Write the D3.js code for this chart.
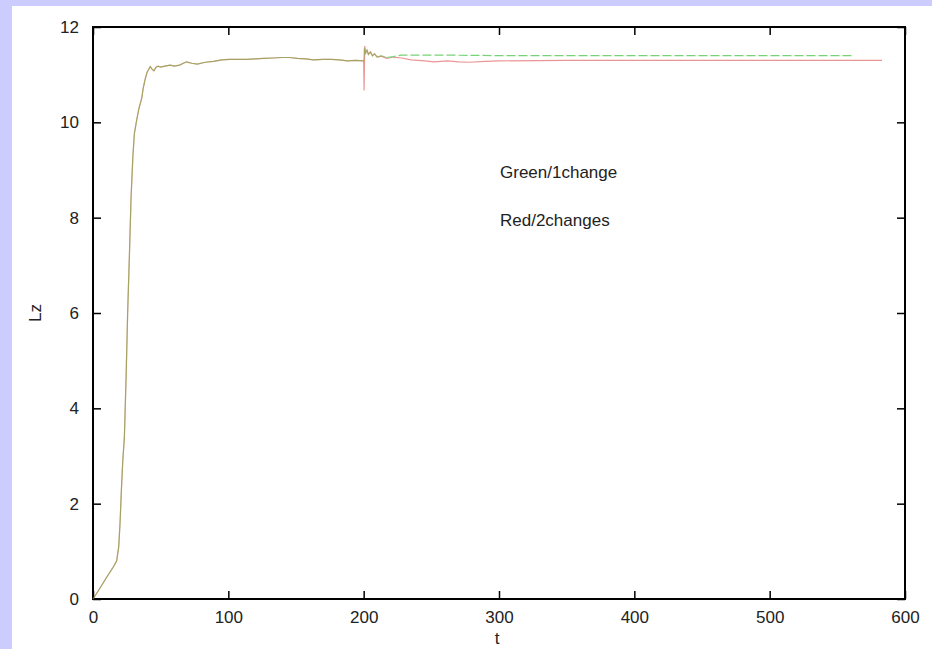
<!DOCTYPE html>
<html>
<head>
<meta charset="utf-8">
<script src="https://cdn.jsdelivr.net/npm/d3@7"></script>
<style>
  html, body { margin: 0; padding: 0; background: #ccccff; }
  svg { display: block; }
</style>
</head>
<body>
<svg id="chart" width="932" height="649"></svg>
<script>
// Shared trajectory (both runs identical up to t = 200)
const tCommon  = [0, 5, 10, 15, 17.5, 19, 20, 21, 22, 23.2, 24.5, 25.6, 27, 28.1, 29.5, 30.6, 32.3, 34, 36, 37, 38.5, 40, 42.3, 43.5, 45, 46.5, 48, 50, 53, 57, 60, 64, 69, 73, 77, 83, 89, 95, 101, 108, 114, 120, 126, 133, 140, 145, 151, 157, 163, 170, 176, 182, 188, 194, 200];
const lzCommon = [0, 0.22, 0.45, 0.67, 0.8, 1.1, 1.6, 2.3, 2.9, 3.4, 4.7, 6.0, 7.3, 8.4, 9.3, 9.77, 10.05, 10.3, 10.5, 10.7, 10.9, 11.05, 11.17, 11.12, 11.08, 11.15, 11.18, 11.16, 11.18, 11.2, 11.18, 11.2, 11.27, 11.24, 11.22, 11.26, 11.28, 11.31, 11.32, 11.32, 11.32, 11.33, 11.34, 11.35, 11.36, 11.36, 11.34, 11.33, 11.31, 11.32, 11.32, 11.31, 11.29, 11.3, 11.29];

// After the change at t = 200
const tGreen  = [200.5, 201.5, 202.5, 203.5, 205, 206.5, 208, 210, 213, 217, 222, 228, 235, 260, 300, 400, 500, 561];
const lzGreen = [11.56, 11.44, 11.5, 11.42, 11.47, 11.39, 11.43, 11.37, 11.4, 11.36, 11.38, 11.41, 11.41, 11.41, 11.4, 11.4, 11.4, 11.4];

const tRed  = [200.3, 200.8, 201.5, 202.5, 203.5, 205, 206.5, 208, 210, 213, 217, 222, 228, 235, 245, 252, 262, 270, 278, 290, 300, 350, 400, 500, 583];
const lzRed = [10.67, 11.6, 11.47, 11.52, 11.43, 11.48, 11.4, 11.44, 11.37, 11.39, 11.34, 11.37, 11.35, 11.31, 11.29, 11.27, 11.29, 11.27, 11.26, 11.28, 11.29, 11.3, 11.3, 11.3, 11.3];

const xTicks = [0, 100, 200, 300, 400, 500, 600];
const yTicks = [0, 2, 4, 6, 8, 10, 12];
const notes = ["Green/1change", "Red/2changes"];

const svg = d3.select("#chart");
const W = 932, H = 649;
const m = { left: 93, right: 905, top: 27, bottom: 599 };

// white page panel
svg.append("rect").attr("x", 12).attr("y", 6).attr("width", W - 12).attr("height", H - 6).attr("fill", "#ffffff");

const x = d3.scaleLinear().domain([0, 600]).range([m.left, m.right]);
const y = d3.scaleLinear().domain([0, 12]).range([m.bottom, m.top]);

const font = "Liberation Sans, Arial, sans-serif";
const fs = 17;
const tickLen = 8;

// axes with inward ticks on all four sides
const axisStyle = g => {
  g.select(".domain").remove();
  g.selectAll(".tick line").attr("stroke", "#000").attr("stroke-width", 1.5);
  g.selectAll(".tick text").attr("font-family", font).attr("font-size", fs).attr("fill", "#222");
};

svg.append("g").attr("transform", `translate(0,${m.bottom})`)
  .call(d3.axisBottom(x).tickValues(xTicks).tickSizeInner(-tickLen).tickSizeOuter(0).tickPadding(12).tickFormat(d3.format("d")))
  .call(axisStyle);
svg.append("g").attr("transform", `translate(0,${m.top})`)
  .call(d3.axisTop(x).tickValues(xTicks).tickSizeInner(-tickLen).tickSizeOuter(0).tickFormat(""))
  .call(axisStyle);
svg.append("g").attr("transform", `translate(${m.left},0)`)
  .call(d3.axisLeft(y).tickValues(yTicks).tickSizeInner(-tickLen).tickSizeOuter(0).tickPadding(14).tickFormat(d3.format("d")))
  .call(axisStyle);
svg.append("g").attr("transform", `translate(${m.right},0)`)
  .call(d3.axisRight(y).tickValues(yTicks).tickSizeInner(-tickLen).tickSizeOuter(0).tickFormat(""))
  .call(axisStyle);

// frame
svg.append("rect").attr("x", m.left).attr("y", m.top)
  .attr("width", m.right - m.left).attr("height", m.bottom - m.top)
  .attr("fill", "none").attr("stroke", "#000").attr("stroke-width", 2);

// axis titles
svg.append("text").attr("x", (m.left + m.right) / 2 - 2).attr("y", 644)
  .attr("text-anchor", "middle").attr("font-family", font).attr("font-size", fs).attr("fill", "#222").text("t");
svg.append("text").attr("transform", `translate(41,${(m.top + m.bottom) / 2}) rotate(-90)`)
  .attr("text-anchor", "middle").attr("font-family", font).attr("font-size", fs).attr("fill", "#222").text("Lz");

// series
const toPts = (ts, vs) => ts.map((t, i) => [t, vs[i]]);
const common = toPts(tCommon, lzCommon);
const redPts = common.concat(toPts(tRed, lzRed));
const greenPts = common.concat(toPts(tGreen, lzGreen));
const split = 217; // green drawn dashed once it leaves the red run

const line = d3.line().x(d => x(d[0])).y(d => y(d[1]));

svg.append("path").datum(redPts).attr("d", line)
  .attr("fill", "none").attr("stroke", "rgb(215,45,45)").attr("stroke-opacity", 0.5).attr("stroke-width", 1.2);
svg.append("path").datum(greenPts.filter(d => d[0] <= split)).attr("d", line)
  .attr("fill", "none").attr("stroke", "rgb(95,175,45)").attr("stroke-opacity", 0.5).attr("stroke-width", 1.2);
svg.append("path").datum(greenPts.filter(d => d[0] >= split)).attr("d", line)
  .attr("fill", "none").attr("stroke", "rgb(120,210,120)").attr("stroke-width", 1.2)
  .attr("stroke-dasharray", "9,3");

// annotations
svg.selectAll("text.note").data(notes).join("text")
  .attr("class", "note")
  .attr("x", 500).attr("y", (d, i) => 178 + i * 48)
  .attr("font-family", font).attr("font-size", fs).attr("fill", "#222")
  .text(d => d);
</script>
</body>
</html>
